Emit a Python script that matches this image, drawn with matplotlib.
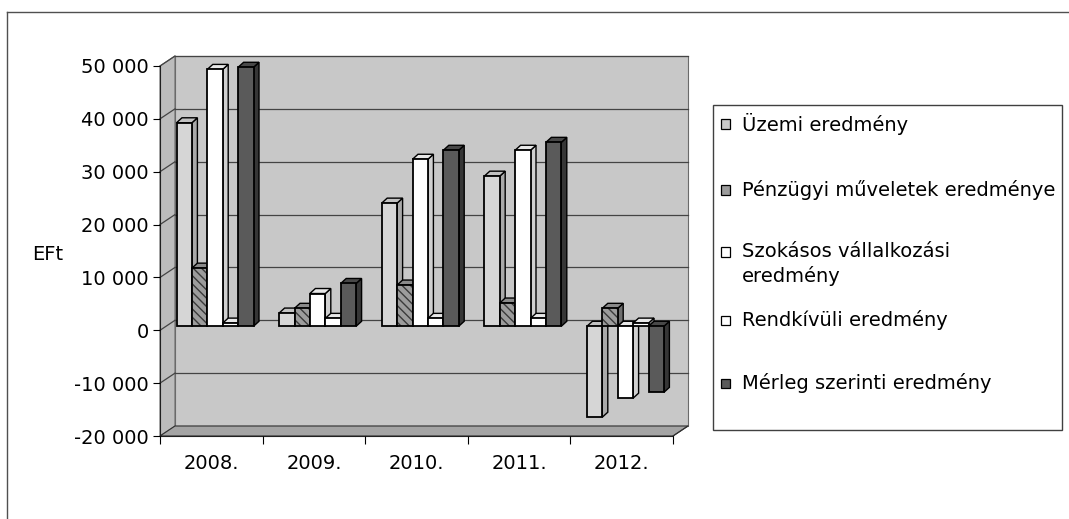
import matplotlib
matplotlib.use('Agg')
import matplotlib.pyplot as plt
from matplotlib.patches import Polygon, Rectangle
from matplotlib.lines import Line2D

plt.rcParams['font.family'] = ['DejaVu Sans']
plt.rcParams['hatch.linewidth'] = 1.0

years = ['2008.', '2009.', '2010.', '2011.', '2012.']
uzemi = [38500, 2500, 23300, 28400, -17200]
penzugyi = [11000, 3400, 7800, 4400, 3400]
szokasos = [48600, 6200, 31600, 33300, -13600]
rendkivuli = [600, 1500, 1500, 1500, 600]
merleg = [49000, 8100, 33300, 34800, -12500]

series_names = ['Üzemi eredmény', 'Pénzügyi műveletek eredménye',
                'Szokásos vállalkozási\neredmény', 'Rendkívüli eredmény',
                'Mérleg szerinti eredmény']
yticks = [-20000, -10000, 0, 10000, 20000, 30000, 40000, 50000]
ylabel = 'EFt'

W, H = 1069, 519
fig = plt.figure(figsize=(W / 100, H / 100), dpi=100)
fig.patch.set_facecolor('white')

# pixel box of the front plane of the plot
x_left, x_right = 160, 673
y_top, y_bot = 66, 436
ax = fig.add_axes([x_left / W, 1 - y_bot / H, (x_right - x_left) / W, (y_bot - y_top) / H])
ax.set_xlim(0, 5)
ax.set_ylim(-20000, 50000)
ax.patch.set_visible(False)

px_x = 5 / (x_right - x_left)          # data units per pixel
px_y = 70000 / (y_bot - y_top)

# depth of the walls and of the bars
wdx, wdy = 15 * px_x, 10 * px_y
bdx, bdy = 5.5 * px_x, 5 * px_y
base = 4 * px_y
ymin, ymax = -20000, 50000

wall_c = '#c8c8c8'
side_c = '#bcbcbc'
floor_c = '#a4a4a4'
grid_c = '#444444'

# back wall, side wall, floor
ax.add_patch(Polygon([(wdx, ymin + wdy), (5 + wdx, ymin + wdy), (5 + wdx, ymax + wdy), (wdx, ymax + wdy)],
                     closed=True, facecolor=wall_c, edgecolor='#6a6a6a', lw=0.8, zorder=0.5, clip_on=False))
ax.add_patch(Polygon([(0, ymin), (wdx, ymin + wdy), (wdx, ymax + wdy), (0, ymax)],
                     closed=True, facecolor=side_c, edgecolor='#6a6a6a', lw=0.8, zorder=0.6, clip_on=False))
ax.add_patch(Polygon([(0, ymin), (5, ymin), (5 + wdx, ymin + wdy), (wdx, ymin + wdy)],
                     closed=True, facecolor=floor_c, edgecolor='#303030', lw=0.8, zorder=0.7, clip_on=False))

for v in yticks[1:]:
    ax.plot([wdx, 5 + wdx], [v + wdy, v + wdy], color=grid_c, lw=0.9, zorder=0.8, clip_on=False)
    ax.plot([0, wdx], [v, v + wdy], color=grid_c, lw=0.9, zorder=0.8, clip_on=False)

styles = [
    dict(face='#d6d6d6', side='#a9a9a9', top='#c2c2c2', hatch=None),
    dict(face='#9c9c9c', side='#6e6e6e', top='#8a8a8a', hatch='\\\\\\\\'),
    dict(face='white', side='#d0d0d0', top='#e8e8e8', hatch=None),
    dict(face='white', side='#d0d0d0', top='#e8e8e8', hatch=None),
    dict(face='#5a5a5a', side='#363636', top='#484848', hatch=None),
]

data = [uzemi, penzugyi, szokasos, rendkivuli, merleg]
first = 16.5 * px_x
bw = 15.4 * px_x

z = 2
for i in range(len(years)):
    for j, vals in enumerate(data):
        v = vals[i]
        st = styles[j]
        x0 = i + first + j * bw
        top = max(v, 0) + base
        bot = min(v, 0) + base
        # side and top faces
        ax.add_patch(Polygon([(x0 + bw, bot), (x0 + bw + bdx, bot + bdy), (x0 + bw + bdx, top + bdy), (x0 + bw, top)],
                             closed=True, facecolor=st['side'], edgecolor='black', lw=1.0, zorder=z, clip_on=False))
        ax.add_patch(Polygon([(x0, top), (x0 + bw, top), (x0 + bw + bdx, top + bdy), (x0 + bdx, top + bdy)],
                             closed=True, facecolor=st['top'], edgecolor='black', lw=1.0, zorder=z, clip_on=False))
        # front face
        if st['hatch']:
            ax.bar(x0, v, bottom=base, width=bw, align='edge', color=st['face'], hatch=st['hatch'],
                   edgecolor='#3a3a3a', linewidth=0, zorder=z + 0.1, clip_on=False)
        ax.bar(x0, v, bottom=base, width=bw, align='edge', color=st['face'] if not st['hatch'] else 'none',
               edgecolor='black', linewidth=1.3, zorder=z + 0.2, clip_on=False)
        z += 1

# axes lines
for s in ['top', 'right']:
    ax.spines[s].set_visible(False)
ax.spines['left'].set_color('#202020')
ax.spines['bottom'].set_color('#202020')
ax.spines['left'].set_zorder(0.9)
ax.spines['bottom'].set_zorder(0.9)
ax.plot([5, 5 + wdx], [ymin, ymin + wdy], color='#303030', lw=0.8, clip_on=False, zorder=0.9)

ax.set_yticks(yticks)
ax.set_yticklabels([('%d' % v if v == 0 else '{:,}'.format(v).replace(',', ' ')) for v in yticks])
ax.tick_params(axis='y', direction='out', length=5, width=0.8, pad=3, labelsize=14, colors='black')

ax.set_xticks(range(6))
ax.set_xticklabels([''] * 6)
ax.set_xticks([i + 0.5 for i in range(5)], minor=True)
ax.set_xticklabels(years, minor=True)
ax.tick_params(axis='x', which='major', direction='out', length=6, width=0.8)
ax.tick_params(axis='x', which='minor', length=0, pad=13, labelsize=14)

fig.text(48 / W, 1 - 255 / H, ylabel, fontsize=14, ha='center', va='center')

# legend
fig.add_artist(Rectangle((713 / W, 1 - 430 / H), (1062 - 713) / W, (430 - 105) / H, transform=fig.transFigure,
                         facecolor='white', edgecolor='#404040', lw=1.0))
rows = [124, 190, 252, 320, 383]
for k, name in enumerate(series_names):
    y = rows[k]
    st = styles[k]
    fig.add_artist(Rectangle((721 / W, 1 - (y + 4.5) / H), 9 / W, 9 / H, transform=fig.transFigure,
                             facecolor=st['face'] if k != 0 else '#c8c8c8', edgecolor='black', lw=0.9))
    if '\n' in name:
        fig.text(742 / W, 1 - (y - 10) / H, name, fontsize=14, ha='left', va='top', linespacing=1.3)
    else:
        fig.text(742 / W, 1 - y / H, name, fontsize=14, ha='left', va='center')

# outer frame
fig.add_artist(Line2D([7 / W, 7 / W], [0, 1 - 12 / H], transform=fig.transFigure, color='#505050', lw=1.0))
fig.add_artist(Line2D([7 / W, 1], [1 - 12 / H, 1 - 12 / H], transform=fig.transFigure, color='#505050', lw=1.0))

fig.savefig('out.png', dpi=100)
